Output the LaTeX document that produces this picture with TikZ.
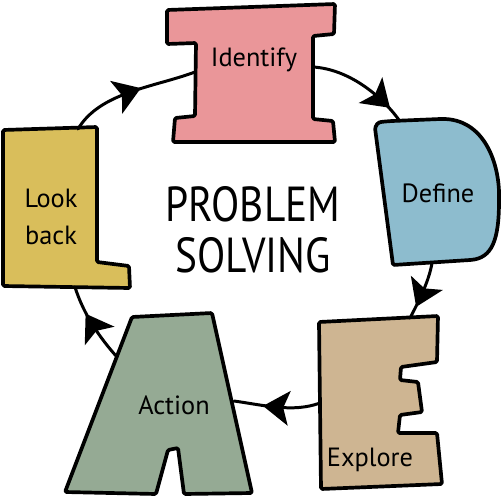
\documentclass[tikz,border=0pt]{standalone}
\usepackage{fontspec}
\setmainfont{PT Sans}
\usetikzlibrary{calc,decorations.markings}
\definecolor{identpink}{RGB}{234,150,153}
\definecolor{defblue}{RGB}{141,188,206}
\definecolor{exptan}{RGB}{206,181,146}
\definecolor{actgreen}{RGB}{149,170,148}
\definecolor{lookyellow}{RGB}{217,190,91}

\begin{document}
\begin{tikzpicture}[x=0.02cm, y=-0.02cm, line join=round, line cap=round,
        lettershape/.style={draw=black, line width=2.1pt, rounded corners=0.8pt},
        lettertext/.style={font=\fontsize{15}{21.5}\selectfont, align=center, inner sep=0pt},
        loopline/.style={line width=1.7pt},
        arrowat/.style={decoration={markings, mark=at position #1 with {\fill (-7pt,-10pt) -- (8pt,0pt) -- (-7pt,10pt) -- (-3.5pt,0pt) -- cycle;}}, postaction={decorate}}]
        \useasboundingbox (0,0) rectangle (501,498);

        % Letter I (Identify) at the top
        \draw[lettershape, fill=identpink] (167,10) -- (335,4) -- (334,34) -- (313,36) -- (313,119) -- (333,121) -- (335,142)
            -- (173,142) -- (175,118) -- (195,116) -- (196,43) -- (167,44) -- cycle;
        \node[lettertext] (identify) at (254,60) {Identify};

        % Letter D (Define) on the right
        \draw[lettershape, fill=defblue] (375,128) .. controls (378,122) .. (392,121) -- (440,119)
            .. controls (485,118) and (500,165) .. (499,200) .. controls (499,240) and (492,258) .. (470,260) -- (393,265) -- cycle;
        \node[lettertext] (define) at (438,193) {Define};

        % Letter E (Explore) bottom right
        \draw[lettershape, fill=exptan] (319,322) -- (438,316) -- (437,362) -- (401,367) -- (400,380) -- (418,382) -- (422,412)
            -- (400,415) -- (398,433) -- (437,433) -- (442,484) -- (321,489) -- cycle;
        \node[lettertext] (explore) at (370,460) {Explore};

        % Letter A (Action) bottom left
        \draw[lettershape, fill=actgreen] (132,317) -- (212,313) -- (252,493) -- (184,494) -- (178,448) -- (168,450)
            -- (156,494) -- (65,492) -- cycle;
        \node[lettertext] (action) at (174,405) {Action};

        % Letter L (Look back) on the left
        \draw[lettershape, fill=lookyellow] (3,130) -- (97,127) -- (97,262) -- (129,266) -- (130,288) -- (3,286) -- cycle;
        \node[lettertext] (lookback) at (51,217) {Look\\back};

        % Title in the middle
        \node[font=\fontsize{28}{29}\selectfont, align=center] (title) at (253,230)
            {\scalebox{.84}[1]{PROBLEM}\\\scalebox{.84}[1]{SOLVING}};

        % Ends of the cycle arcs
        \coordinate (I-w) at (195,72);
        \coordinate (I-e) at (313,67);
        \coordinate (D-n) at (399,120);
        \coordinate (D-s) at (432,263);
        \coordinate (E-n) at (410,318);
        \coordinate (E-w) at (320,403);
        \coordinate (A-e) at (234,401);
        \coordinate (A-w) at (117,357);
        \coordinate (L-s) at (75,287);
        \coordinate (L-n) at (78,129);

        % Clockwise cycle
        \draw[loopline, arrowat=0.72] (I-e) .. controls ($(I-e)+(35,2)$) and ($(D-n)+(-18,-25)$) .. (D-n);
        \draw[loopline, arrowat=0.55] (D-s) .. controls ($(D-s)+(-3,18)$) and ($(E-n)+(9,-17)$) .. (E-n);
        \draw[loopline, arrowat=0.5] (E-w) .. controls ($(E-w)+(-27,10)$) and ($(A-e)+(29,4)$) .. (A-e);
        \draw[loopline, arrowat=0.48] (A-w) .. controls ($(A-w)+(-18,-20)$) and ($(L-s)+(8,26)$) .. (L-s);
        \draw[loopline, arrowat=0.47] (L-n) .. controls ($(L-n)+(22,-37)$) and ($(I-w)+(-40,15)$) .. (I-w);
    \end{tikzpicture}
\end{document}
